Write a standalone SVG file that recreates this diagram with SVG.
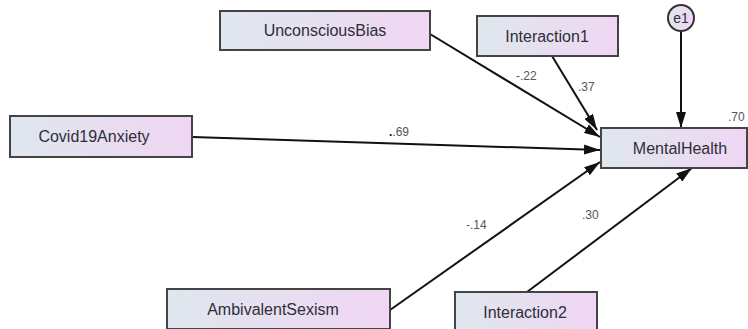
<svg xmlns="http://www.w3.org/2000/svg" width="748" height="329" viewBox="0 0 748 329">
<defs>
<linearGradient id="g" x1="0" y1="0" x2="1" y2="0">
<stop offset="0" stop-color="#dfe7ee"/>
<stop offset="1" stop-color="#f0d6f3"/>
</linearGradient>
<marker id="ah" markerWidth="16" markerHeight="10" refX="16" refY="5" orient="auto" markerUnits="userSpaceOnUse">
<path d="M0,0 L16,5 L0,10 Z" fill="#111"/>
</marker>
<style>
.box{fill:url(#g);stroke:#444;stroke-width:2}
.t{font-family:"Liberation Sans",Arial,sans-serif;font-size:16px;fill:#2e2e38;text-anchor:middle}
.l{font-family:"Liberation Sans",Arial,sans-serif;font-size:12px;fill:#555}
.c{stroke:#111;stroke-width:2;fill:none;marker-end:url(#ah)}
</style>
</defs>
<rect width="748" height="329" fill="#fff"/>
<g id="connectors">
<line class="c" x1="430" y1="34" x2="600" y2="137"/>
<line class="c" x1="552" y1="56" x2="597" y2="130"/>
<line class="c" x1="681" y1="31" x2="681" y2="128"/>
<line class="c" x1="192" y1="137" x2="600" y2="150"/>
<line class="c" x1="390" y1="310" x2="600" y2="162"/>
<line class="c" x1="527" y1="292" x2="692" y2="168"/>
</g>
<g id="UnconsciousBias"><rect class="box" x="220" y="11" width="210" height="39"/><text class="t" x="325" y="36">UnconsciousBias</text></g>
<g id="Interaction1"><rect class="box" x="477" y="16" width="141" height="40"/><text class="t" x="547" y="42">Interaction1</text></g>
<g id="e1"><circle cx="681" cy="18" r="13" fill="url(#g)" stroke="#333" stroke-width="2"/><text class="t" x="681" y="23" style="font-size:14px">e1</text></g>
<g id="Covid19Anxiety"><rect class="box" x="10" y="116" width="182" height="41"/><text class="t" x="94" y="142">Covid19Anxiety</text></g>
<g id="MentalHealth"><rect class="box" x="601" y="128" width="146" height="40"/><text class="t" x="680" y="154">MentalHealth</text><text class="l" x="728" y="121">.70</text></g>
<g id="AmbivalentSexism"><rect class="box" x="167" y="289" width="223" height="40"/><text class="t" x="273" y="315">AmbivalentSexism</text></g>
<g id="Interaction2"><rect class="box" x="455" y="292" width="142" height="38"/><text class="t" x="525" y="318">Interaction2</text></g>
<g id="labels">
<text class="l" x="516" y="80">-.22</text>
<text class="l" x="578" y="91">.37</text>
<text class="l" x="389" y="136"><tspan font-weight="bold" fill="#111">.</tspan>.69</text>
<text class="l" x="466" y="229">-.14</text>
<text class="l" x="582" y="219">.30</text>
</g>
</svg>
